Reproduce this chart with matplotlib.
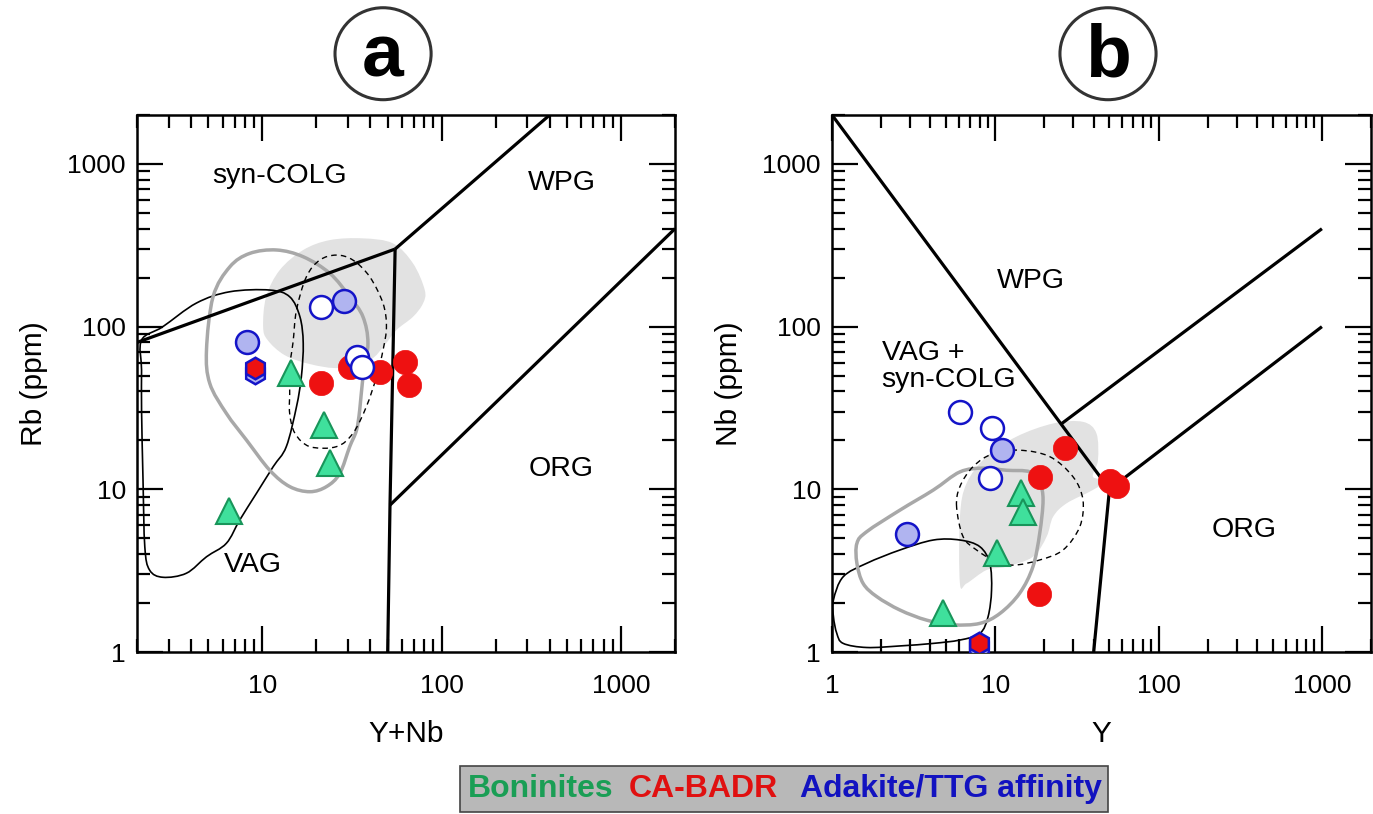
import matplotlib

matplotlib.use("Agg")
import matplotlib.pyplot as plt
import numpy as np
from matplotlib.patches import Ellipse, Rectangle, PathPatch
from matplotlib.path import Path
from matplotlib.ticker import LogLocator, NullFormatter, FixedLocator, FixedFormatter

plt.rcParams["font.family"] = ["Liberation Sans", "DejaVu Sans"]

# ---- panel a: Rb vs Y+Nb -------------------------------------------------
# discrimination boundaries (Pearce et al. 1984)
a_lines = [
    ([2, 55], [80, 300]),
    ([55, 400], [300, 2000]),
    ([55, 51.5, 50], [300, 8, 1]),
    ([51.5, 2000], [8, 400]),
]
a_vag_x = [2.12, 2.78, 4.29, 6.58, 11.0, 14.2, 16.2, 16.9, 16.5, 15.5, 13.6, 11.5,
           9.27, 7.48, 6.3, 4.88, 3.77, 2.79, 2.35, 2.21, 2.16, 2.12, 2.12]
a_vag_y = [82.7, 99.8, 139.7, 163.9, 167.9, 152.7, 115, 78.9, 49.2, 32.2, 18.3, 13.8,
           9.45, 6.48, 4.66, 3.85, 3.05, 2.88, 3.19, 4.44, 11.4, 30.7, 54.1]
a_gray_x = [4.88, 5.31, 6.58, 8.5, 12.0, 16.9, 23.8, 30.7, 36.4, 38.8, 36.4, 34.9,
            33.5, 30.7, 27.0, 22.8, 18.4, 14.2, 11.0, 8.15, 6.3, 5.09]
a_gray_y = [71.8, 152.7, 233, 282, 296, 269, 212.6, 152.7, 115, 78.9, 49.2, 30.7,
            23.1, 18.3, 12.5, 10.4, 9.67, 10.4, 13.1, 20.1, 29.3, 44.8]
a_dash_x = [13.9, 14.8, 15.5, 17.6, 20.9, 25.9, 32.0, 39.7, 47.1, 49.2, 47.1, 43.3,
            38.0, 32.0, 25.9, 18.4, 15.2, 14.2, 14.2]
a_dash_y = [49.2, 78.9, 126.5, 202.6, 256.6, 275.4, 256.6, 202.6, 139, 99.8, 71.8, 49.2,
            32.2, 22.1, 18.3, 18.3, 22.1, 29.3, 40.8]
a_fill_x = [10.1, 10.5, 12.5, 16.9, 23.8, 36.4, 53.5, 69.2, 80.5, 78.7, 69.2, 55.9,
            48.1, 39.7, 27.0, 18.4, 13.3, 10.7]
a_fill_y = [99.8, 152.7, 222.8, 296, 340.6, 349, 325, 245, 167.9, 139, 115, 95.3,
            77.1, 62.3, 55.7, 58.9, 66.9, 82.7]

a_red_x = [21.3, 30.7, 45.2, 62.3, 65.5]
a_red_y = [45.0, 56.7, 52.8, 60.6, 43.8]
a_blue_x = [8.2, 28.4]
a_blue_y = [80.4, 143.6]
a_open_x = [21.3, 33.9, 35.8]
a_open_y = [132, 65.3, 56.7]
a_tri_x = [14.5, 22.1, 23.7, 6.5]
a_tri_y = [51.6, 24.8, 14.6, 7.36]
a_hex_x = [9.06]
a_hex_y = [55.4]
a_hex2_y = [51.9]

a_labels = [("syn-COLG", 12.5, 843), ("WPG", 466, 760), ("ORG", 466, 13.3), ("VAG", 8.87, 3.42)]

# ---- panel b: Nb vs Y ----------------------------------------------------
b_lines = [
    ([1, 50, 40], [2000, 10, 1]),
    ([50, 1000], [10, 100]),
    ([25, 1000], [25, 400]),
]
b_vag_x = [1.02, 1.17, 1.63, 2.61, 4.17, 6.07, 8.04, 9.25, 9.48, 9.03, 8.04, 6.07,
           4.17, 2.61, 1.63, 1.17, 1.07, 1.02]
b_vag_y = [2.09, 2.90, 3.51, 4.24, 4.88, 4.88, 4.44, 3.51, 2.40, 1.65, 1.30, 1.185,
           1.13, 1.09, 1.066, 1.13, 1.30, 1.65]
b_gray_x = [1.42, 1.63, 2.61, 4.17, 6.07, 8.42, 11.7, 16.3, 18.7, 19.6, 18.7, 17.0,
            14.1, 10.7, 8.04, 5.52, 3.80, 2.61, 1.88, 1.55, 1.42]
b_gray_y = [4.66, 5.49, 7.46, 9.9, 12.8, 13.5, 13.1, 12.8, 10.9, 8.6, 5.37, 3.35,
            2.30, 1.73, 1.50, 1.47, 1.57, 1.81, 2.19, 2.64, 3.51]
b_dash_x = [5.79, 6.07, 7.31, 9.70, 14.1, 21.5, 29.9, 34.4, 32.9, 26.0, 18.7, 12.8,
            9.70, 7.67, 6.35]
b_dash_y = [7.82, 10.4, 13.8, 16.6, 17.4, 15.9, 11.95, 8.6, 5.89, 4.24, 3.68, 3.42,
            3.68, 4.24, 5.11]
b_fill_x = [6.07, 6.07, 6.67, 8.83, 13.5, 22.6, 34.4, 41.6, 42.5, 39.6, 47.9, 39.5,
            27.3, 22.6, 20.6, 17.0, 11.7, 8.83, 6.67]
b_fill_y = [2.64, 6.79, 10.9, 15.9, 21.1, 25.4, 26.0, 22.1, 15.1, 11.95, 11.4, 9.9,
            8.2, 6.79, 5.11, 3.85, 3.35, 3.19, 2.64]

b_red_x = [26.6, 18.7, 50.2, 55.6, 18.5]
b_red_y = [18.0, 11.95, 11.2, 10.5, 2.26]
b_blue_x = [11.0, 2.89]
b_blue_y = [17.4, 5.31]
b_open_x = [6.07, 9.6, 9.34]
b_open_y = [29.7, 23.9, 11.8]
b_tri_x = [14.3, 14.7, 10.3, 4.75]
b_tri_y = [9.5, 7.3, 4.04, 1.73]
b_hex_x = [7.96]
b_hex_y = [1.13]
b_hex2_y = [1.08]

b_labels = [("WPG", 16.4, 192), ("ORG", 336, 5.62)]

RED = "#ee1111"
GREEN_F = "#3fe09c"
GREEN_E = "#18955a"
BLUE_E = "#1414c8"
BLUE_F = "#b0b4f0"


def smooth_outline(xs, ys):
    # closed Catmull-Rom curve through the traced points, built in log space
    # (log axes) so the bezier handles map cleanly
    p = np.column_stack([np.log10(xs), np.log10(ys)])
    n = len(p)
    verts = [p[0]]
    codes = [Path.MOVETO]
    for i in range(n):
        p0, p1, p2, p3 = p[i - 1], p[i], p[(i + 1) % n], p[(i + 2) % n]
        verts += [p1 + (p2 - p0) / 6, p2 - (p3 - p1) / 6, p2]
        codes += [Path.CURVE4] * 3
    return Path(10 ** np.array(verts), codes)


def style_axes(ax, xlim, xticks):
    ax.set_xscale("log")
    ax.set_yscale("log")
    ax.set_xlim(*xlim)
    ax.set_ylim(1, 2000)
    ax.xaxis.set_major_locator(FixedLocator(xticks))
    ax.xaxis.set_major_formatter(FixedFormatter([str(t) for t in xticks]))
    ax.yaxis.set_major_locator(FixedLocator([1, 10, 100, 1000]))
    ax.yaxis.set_major_formatter(FixedFormatter(["1", "10", "100", "1000"]))
    for axis in (ax.xaxis, ax.yaxis):
        axis.set_minor_locator(LogLocator(base=10, subs=range(2, 10), numticks=20))
        axis.set_minor_formatter(NullFormatter())
    ax.tick_params(which="both", direction="in", top=True, right=True,
                   width=1.6, labelsize=19)
    ax.tick_params(axis="x", pad=16)
    ax.tick_params(axis="y", pad=8)
    ax.tick_params(which="major", length=19)
    ax.tick_params(which="minor", length=9.5)
    for s in ax.spines.values():
        s.set_linewidth(1.8)


def draw_panel(ax, lines, vag, gray, dash, fill, pts, labels):
    ax.add_patch(PathPatch(smooth_outline(*fill), fc="#e2e2e2", ec="none", zorder=1))
    ax.add_patch(PathPatch(smooth_outline(*vag), fc="none", ec="black", lw=1.2, zorder=2))
    ax.add_patch(PathPatch(smooth_outline(*gray), fc="none", ec="#a8a8a8", lw=2.5, zorder=2))
    ax.add_patch(PathPatch(smooth_outline(*dash), fc="none", ec="black", lw=1.0,
                           ls=(0, (4, 3)), zorder=2))
    for xs, ys in lines:
        ax.plot(xs, ys, color="black", lw=2.3, solid_capstyle="butt", zorder=3)
    red, blue, opn, tri, hexa, hexa2 = pts
    ax.plot(hexa[0], hexa2, "h", ms=15.5, mfc=BLUE_F, mec=BLUE_E, mew=1.8, zorder=4)
    ax.plot(hexa[0], hexa[1], "h", ms=15.5, mfc=RED, mec=BLUE_E, mew=1.8, zorder=4)
    ax.plot(*red, "o", ms=17.5, mfc=RED, mec=RED, mew=0.5, zorder=4)
    ax.plot(*blue, "o", ms=16.5, mfc=BLUE_F, mec=BLUE_E, mew=1.8, zorder=4)
    ax.plot(*opn, "o", ms=16.5, mfc="white", mec=BLUE_E, mew=1.8, zorder=5)
    ax.plot(*tri, "^", ms=19, mfc=GREEN_F, mec=GREEN_E, mew=1.5, zorder=4)
    for txt, x, y in labels:
        ax.text(x, y, txt, fontsize=20.5, ha="center", va="center", zorder=6)


fig = plt.figure(figsize=(13.73, 8.14), dpi=100)
ax_a = fig.add_axes([0.0998, 0.199, 0.3918, 0.6597])
ax_b = fig.add_axes([0.606, 0.199, 0.3926, 0.6597])

style_axes(ax_a, (2, 2000), [10, 100, 1000])
style_axes(ax_b, (1, 2000), [1, 10, 100, 1000])

draw_panel(ax_a, a_lines, (a_vag_x, a_vag_y), (a_gray_x, a_gray_y), (a_dash_x, a_dash_y),
           (a_fill_x, a_fill_y),
           ((a_red_x, a_red_y), (a_blue_x, a_blue_y), (a_open_x, a_open_y),
            (a_tri_x, a_tri_y), (a_hex_x, a_hex_y), a_hex2_y), a_labels)
draw_panel(ax_b, b_lines, (b_vag_x, b_vag_y), (b_gray_x, b_gray_y), (b_dash_x, b_dash_y),
           (b_fill_x, b_fill_y),
           ((b_red_x, b_red_y), (b_blue_x, b_blue_y), (b_open_x, b_open_y),
            (b_tri_x, b_tri_y), (b_hex_x, b_hex_y), b_hex2_y), b_labels)
ax_b.text(2.01, 56.7, "VAG +\nsyn-COLG", fontsize=20.5, ha="left", va="center",
          linespacing=1.05, zorder=6)

ax_a.set_xlabel("Y+Nb", fontsize=21.5, labelpad=16)
ax_a.set_ylabel("Rb (ppm)", fontsize=21.5, labelpad=14)
ax_b.set_xlabel("Y", fontsize=21.5, labelpad=16)
ax_b.set_ylabel("Nb (ppm)", fontsize=21.5, labelpad=14)

# circled panel letters
for cx, letter in [(0.279, "a"), (0.807, "b")]:
    fig.patches.append(Ellipse((cx, 0.934), 0.0700, 0.113, transform=fig.transFigure,
                               fc="none", ec="#333333", lw=2.2))
    fig.text(cx, 0.930, letter, fontsize=54, fontweight="bold", ha="center", va="center")

# legend bar
fig.patches.append(Rectangle((0.3347, 0.0025), 0.4723, 0.0565, transform=fig.transFigure,
                             fc="#b8b8b8", ec="#444444", lw=1.2))
fig.text(0.3410, 0.031, "Boninites", color="#1a9e55", fontsize=23, fontweight="bold",
         ha="left", va="center")
fig.text(0.4580, 0.031, "CA-BADR", color="#e01010", fontsize=23, fontweight="bold",
         ha="left", va="center")
fig.text(0.5830, 0.031, "Adakite/TTG affinity", color="#1212c0", fontsize=23,
         fontweight="bold", ha="left", va="center")

fig.savefig("out.png", dpi=100)
